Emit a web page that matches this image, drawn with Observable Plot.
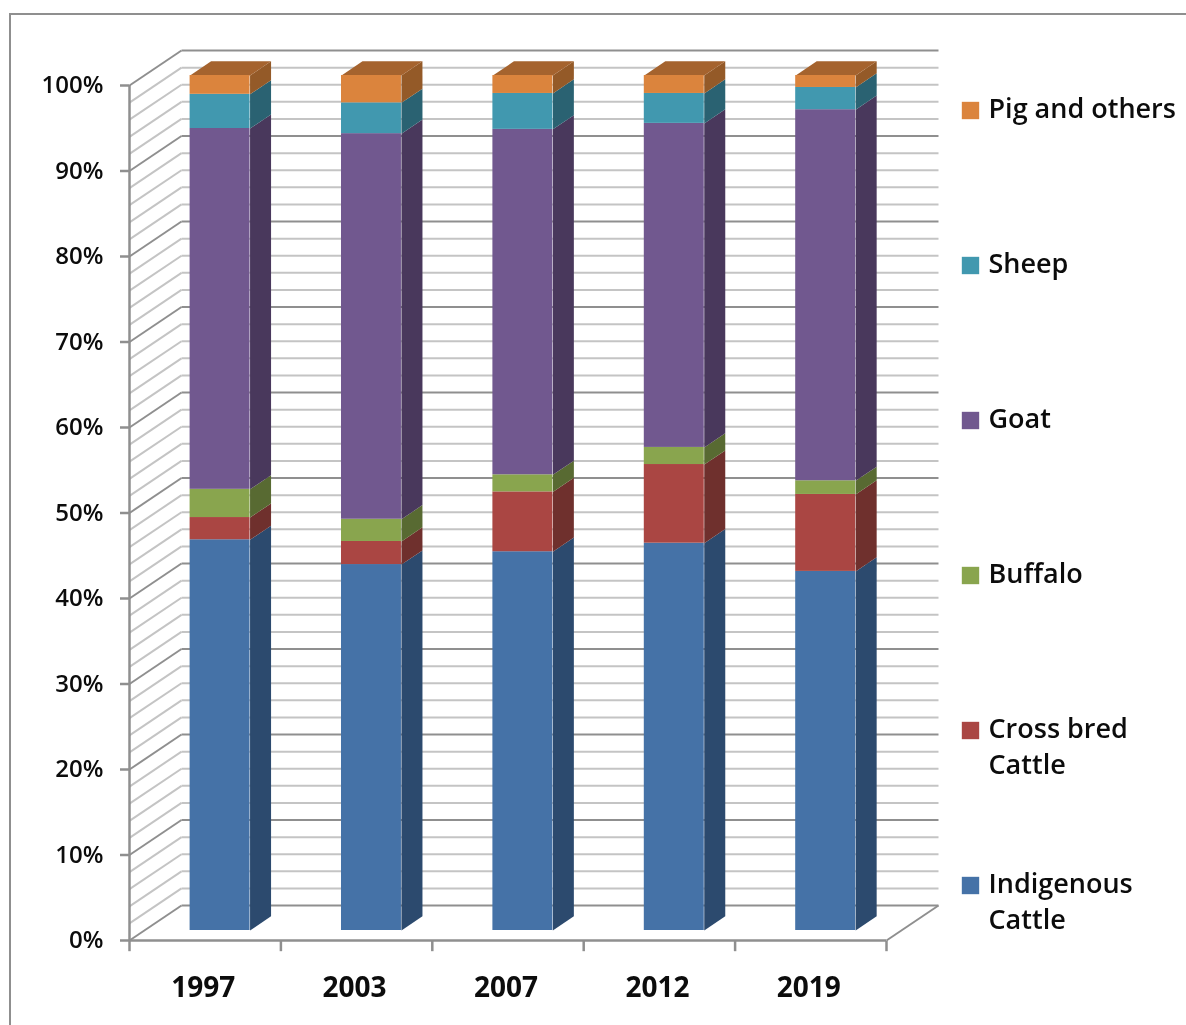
<!DOCTYPE html>
<html>
<head>
<meta charset="utf-8">
<script src="https://cdn.jsdelivr.net/npm/d3@7"></script>
<script src="https://cdn.jsdelivr.net/npm/@observablehq/plot@0.6"></script>
<style>
html,body{margin:0;padding:0;background:#fff;width:1186px;height:1025px;overflow:hidden}
#border{position:absolute;left:9px;top:13px;right:0;bottom:0;border-left:2.5px solid #8f8f8f;border-top:2.5px solid #8f8f8f}
#chart{position:absolute;left:0;top:0}
#chart svg{filter:blur(0.55px);background:transparent;overflow:visible}
</style>
</head>
<body>
<div id="border"></div>
<div id="chart"></div>
<script>
const years = ["1997", "2003", "2007", "2012", "2019"];
const indigenousCattle = [45.7, 42.8, 44.3, 45.3, 42.0];
const crossBredCattle = [2.6, 2.7, 7.0, 9.2, 9.0];
const buffalo = [3.3, 2.6, 2.0, 2.0, 1.6];
const goat = [42.2, 45.1, 40.4, 37.9, 43.4];
const sheep = [4.0, 3.6, 4.2, 3.5, 2.6];
const pigAndOthers = [2.2, 3.2, 2.1, 2.1, 1.4];
const seriesNames = ["Indigenous\nCattle", "Cross bred\nCattle", "Buffalo", "Goat", "Sheep", "Pig and others"];
const seriesValues = [indigenousCattle, crossBredCattle, buffalo, goat, sheep, pigAndOthers];
const frontColors = ["#4572a7", "#aa4643", "#89a54e", "#71588f", "#4198af", "#db843d"];
const sideColors = ["#2c4a6e", "#6f302d", "#586a32", "#49385c", "#2a6272", "#945a28"];
const topColor = "#a5632e";
const legendTop = [867, 712, 557, 402, 247, 92];
const percentTicks = d3.range(0, 101, 10);
const minorTicks = d3.range(0, 101, 2);

// oblique projection of the chart's depth axis, in x and y data units
const depthX = 0.3435, depthY = 4.09;
const barZ0 = 0.286, barZ1 = 0.69, barHalf = 0.198, slotOffset = 0.5;
const gridGray = "#c4c4c4", majorGray = "#8f8f8f", axisGray = "#8f8f8f", ink = "#0c0c0c";
const font = "'Open Sans', sans-serif";

// stacked segments
const segments = [];
years.forEach((year, i) => {
  let base = 0;
  seriesValues.forEach((vals, s) => {
    segments.push({year, i, s, from: base, to: base + vals[i]});
    base += vals[i];
  });
});

const barCentre = i => i + slotOffset + barZ0 * depthX;
const py = (v, z) => v + z * depthY;
const barDepth = (barZ1 - barZ0) * depthX;
segments.forEach(d => d.c = barCentre(d.i));

// polygon rows for side and top faces
const sidePoly = d => [
  {id: d.i, x: d.c + barHalf, y: py(d.from, barZ0)},
  {id: d.i, x: d.c + barHalf + barDepth, y: py(d.from, barZ1)},
  {id: d.i, x: d.c + barHalf + barDepth, y: py(d.to, barZ1)},
  {id: d.i, x: d.c + barHalf, y: py(d.to, barZ0)}
];
const topPoly = i => {
  const c = barCentre(i);
  return [
    {id: i, x: c - barHalf, y: py(100, barZ0)},
    {id: i, x: c - barHalf + barDepth, y: py(100, barZ1)},
    {id: i, x: c + barHalf + barDepth, y: py(100, barZ1)},
    {id: i, x: c + barHalf, y: py(100, barZ0)}
  ];
};

const sideMarks = frontColors.map((_, s) => Plot.line(
  segments.filter(d => d.s === s).flatMap(d => sidePoly(d)),
  {x: "x", y: "y", z: "id", fill: sideColors[s], stroke: "none"}
));
const frontMarks = frontColors.map((_, s) => Plot.rect(
  segments.filter(d => d.s === s),
  {x1: d => d.c - barHalf, x2: d => d.c + barHalf,
   y1: d => py(d.from, barZ0), y2: d => py(d.to, barZ0), fill: frontColors[s]}
));

const isMajor = v => v % 10 === 0;
const wallLines = (rows, stroke) => [
  Plot.link(rows, {x1: () => 0, y1: v => v, x2: () => depthX, y2: v => v + depthY, stroke, strokeWidth: 2}),
  Plot.link(rows, {x1: () => depthX, y1: v => v + depthY, x2: () => 5 + depthX, y2: v => v + depthY, stroke, strokeWidth: 2})
];

const legendMarks = seriesNames.flatMap((name, s) => [
  Plot.dot([name], {frameAnchor: "top-left", dx: 970 - 129, dy: legendTop[s] + 18 - 85, r: 9.8,
    symbol: "square", fill: frontColors[s], stroke: "none"}),
  Plot.text([name], {text: d => d, frameAnchor: "top-left", dx: 988 - 129, dy: legendTop[s] - 85,
    textAnchor: "start", lineAnchor: "top", lineHeight: 1.34, fontSize: 27, fontWeight: 600,
    fontFamily: font, fill: ink})
]);

const chart = Plot.plot({
  width: 1186, height: 1025,
  marginLeft: 129, marginRight: 300, marginTop: 85, marginBottom: 85,
  x: {type: "linear", domain: [0, 5], axis: null},
  y: {type: "linear", domain: [0, 100], axis: null},
  style: {background: "transparent"},
  marks: [
    ...wallLines(minorTicks.filter(v => !isMajor(v)), gridGray),
    ...wallLines(percentTicks, majorGray),
    Plot.link([5], {x1: d => d, y1: () => 0, x2: d => d + depthX, y2: () => depthY, stroke: majorGray, strokeWidth: 2}),
    Plot.ruleY([0], {x1: 0, x2: 5, stroke: axisGray, strokeWidth: 2.5}),
    Plot.ruleX([0], {y1: 0, y2: 100, stroke: axisGray, strokeWidth: 2.5}),
    Plot.axisY({ticks: percentTicks, tickFormat: d => d + "%", tickSize: 9, tickPadding: 17,
      stroke: axisGray, strokeWidth: 2.5, strokeOpacity: 1, fontSize: 24, fontFamily: font,
      fontWeight: 600, fill: ink, label: null}),
    Plot.link(d3.range(0, 6), {x1: d => d, x2: d => d, y1: () => 0, y2: () => -1.25, stroke: axisGray, strokeWidth: 2.5}),
    ...sideMarks,
    Plot.line(years.flatMap((_, i) => topPoly(i)), {x: "x", y: "y", z: "id", fill: topColor, stroke: "none"}),
    ...frontMarks,
    Plot.text(years, {x: (_, i) => i + 0.5, y: () => 0, dy: 48, dx: -2, text: d => d, fontSize: 28,
      fontWeight: 700, fontFamily: font, fill: ink}),
    ...legendMarks
  ]
});
document.getElementById("chart").appendChild(chart);
</script>
</body>
</html>
